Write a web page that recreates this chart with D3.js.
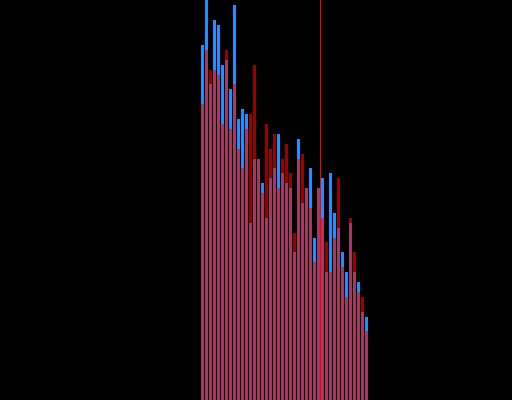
<!DOCTYPE html>
<html>
<head>
<meta charset="utf-8">
<script src="https://cdn.jsdelivr.net/npm/d3@7"></script>
<style>
  html, body { margin: 0; padding: 0; background: #000; }
  svg { display: block; }
</style>
</head>
<body>
<script>
const categories = d3.range(1, 43).map(String);
const seriesA = [355, 400, 316, 380, 375, 335, 340, 311, 395, 281, 291, 286, 177, 241, 241, 217, 182, 222, 232, 266, 227, 217, 212, 148, 261, 197, 212, 232, 162, 212, 222, 128, 227, 187, 172, 148, 128, 177, 128, 118, 88, 83];
const seriesB = [296, 350, 330, 330, 325, 276, 350, 271, 316, 251, 232, 271, 286, 335, 241, 207, 276, 251, 266, 212, 241, 256, 227, 167, 241, 246, 212, 192, 138, 212, 182, 158, 128, 162, 222, 133, 103, 182, 148, 108, 103, 69];
const markerCategory = "31";

const W = 512, H = 400;
const svg = d3.select("body").append("svg").attr("width", W).attr("height", H)
  .style("background", "#000");

const x = d3.scaleBand().domain(categories).range([201, 368])
  .paddingInner(0.25).paddingOuter(0);
const y = d3.scaleLinear().domain([0, 400]).range([H, 0]);

svg.append("g").selectAll("rect").data(seriesA).join("rect")
  .attr("x", (d, i) => x(categories[i]))
  .attr("width", x.bandwidth())
  .attr("y", d => y(d))
  .attr("height", d => y(0) - y(d))
  .attr("fill", "#1e90ff");

svg.append("g").selectAll("rect").data(seriesB).join("rect")
  .attr("x", (d, i) => x(categories[i]))
  .attr("width", x.bandwidth())
  .attr("y", d => y(d))
  .attr("height", d => y(0) - y(d))
  .attr("fill", "#ff0000")
  .attr("fill-opacity", 0.6);

const lx = x(markerCategory) - x.step() * x.paddingInner() / 2;
svg.append("line")
  .attr("x1", lx).attr("x2", lx)
  .attr("y1", 0).attr("y2", H)
  .attr("stroke", "#ff0000")
  .attr("stroke-width", 1);
</script>
</body>
</html>
